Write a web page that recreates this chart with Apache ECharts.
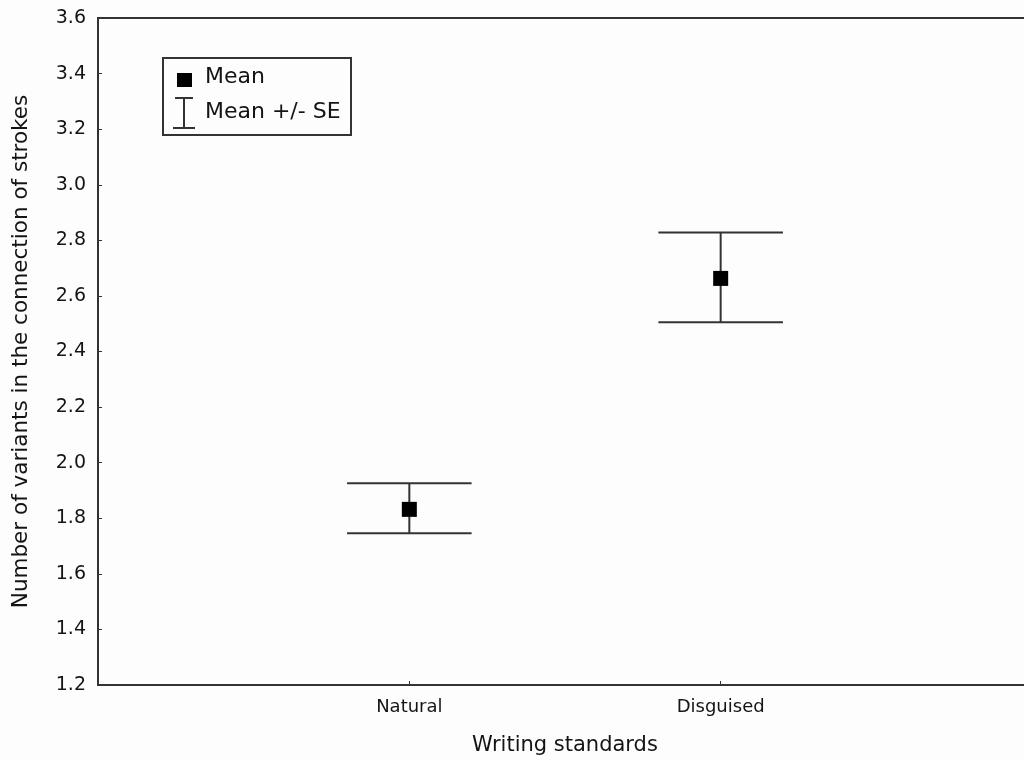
<!DOCTYPE html>
<html lang="en">

<head>
  <meta charset="UTF-8">
  <title>Writing standards</title>
  <style>
    html, body { margin: 0; padding: 0; background: #fdfdfd; }
  </style>
</head>

<body>
  <div id="main" style="width: 1024px;height:761px;"></div>

  <script src="https://cdn.jsdelivr.net/npm/echarts@6/dist/echarts.min.js"></script>
  <script>

  // data
  const categories = ['Natural', 'Disguised'];
  const xPos = [1, 2];
  const means = [1.832, 2.663];
  const seLow = [1.746, 2.505];
  const seHigh = [1.926, 2.828];
  const yTicks = [1.2, 1.4, 1.6, 1.8, 2.0, 2.2, 2.4, 2.6, 2.8, 3.0, 3.2, 3.4, 3.6];

  const font = 'DejaVu Sans, sans-serif';
  const ink = '#141414';

  let meanData = xPos.map((x, i) => [x, means[i]]);
  let errData = xPos.map((x, i) => [x, seLow[i], seHigh[i]]);

  let myChart = echarts.init(document.getElementById('main'));
  let option = {
    backgroundColor: '#fdfdfd',
    animation: false,
    grid: {
      left: 98, top: 18, right: -8, bottom: 76,
      outerBoundsMode: 'none',
      show: true, borderColor: '#333', borderWidth: 2
    },
    xAxis: {
      type: 'value',
      min: 0, max: 3, interval: 1,
      name: 'Writing standards',
      nameLocation: 'middle',
      nameGap: 50,
      nameTextStyle: { fontFamily: font, fontSize: 21, color: ink },
      splitLine: { show: false },
      axisLine: { lineStyle: { color: '#333', width: 2 } },
      axisTick: { inside: true, length: 4, customValues: xPos, lineStyle: { color: '#333' } },
      axisLabel: {
        customValues: xPos,
        margin: 13,
        fontFamily: font, fontSize: 18, color: ink,
        formatter: v => categories[xPos.indexOf(v)] || ''
      }
    },
    yAxis: {
      type: 'value',
      min: 1.2, max: 3.6, interval: 0.2,
      name: 'Number of variants in the connection of strokes',
      nameLocation: 'middle',
      nameGap: 66,
      nameTextStyle: { fontFamily: font, fontSize: 21.5, color: ink },
      splitLine: { show: false },
      axisLine: { show: true, lineStyle: { color: '#333', width: 2 } },
      axisTick: { show: true, inside: true, length: 4, lineStyle: { color: '#333' } },
      axisLabel: {
        margin: 12,
        fontFamily: font, fontSize: 19, color: ink,
        formatter: v => yTicks.find(t => Math.abs(t - v) < 1e-6).toFixed(1)
      }
    },
    series: [
      {
        name: 'Mean +/- SE',
        type: 'custom',
        data: errData,
        renderItem: function (params, api) {
          let x = api.value(0);
          let lo = api.coord([x, api.value(1)]);
          let hi = api.coord([x, api.value(2)]);
          let l = api.coord([x - 0.2, api.value(1)])[0];
          let r = api.coord([x + 0.2, api.value(1)])[0];
          let style = { stroke: '#333', lineWidth: 2 };
          return {
            type: 'group',
            children: [
              { type: 'line', shape: { x1: lo[0], y1: lo[1], x2: hi[0], y2: hi[1] }, style: style },
              { type: 'line', shape: { x1: l, y1: hi[1], x2: r, y2: hi[1] }, style: style },
              { type: 'line', shape: { x1: l, y1: lo[1], x2: r, y2: lo[1] }, style: style }
            ]
          };
        },
        z: 2
      },
      {
        name: 'Mean',
        type: 'scatter',
        data: meanData,
        symbol: 'rect',
        symbolSize: 15,
        itemStyle: { color: '#000', opacity: 1 },
        z: 3
      }
    ],
    // legend box drawn by hand (item sizes differ)
    graphic: [{
      type: 'group',
      left: 162, top: 57,
      children: [
        { type: 'rect', shape: { x: 0, y: 0, width: 188, height: 77 },
          style: { fill: '#fdfdfd', stroke: '#333', lineWidth: 2 } },
        { type: 'rect', shape: { x: 14, y: 15, width: 15, height: 14 }, style: { fill: '#000' } },
        { type: 'text', x: 42, y: 19, style: { text: 'Mean', font: '22px ' + font, fill: ink, textVerticalAlign: 'middle' } },
        { type: 'line', shape: { x1: 21, y1: 40, x2: 21, y2: 70 }, style: { stroke: '#333', lineWidth: 2 } },
        { type: 'line', shape: { x1: 12, y1: 40, x2: 30, y2: 40 }, style: { stroke: '#333', lineWidth: 2 } },
        { type: 'line', shape: { x1: 10, y1: 70, x2: 32, y2: 70 }, style: { stroke: '#333', lineWidth: 2 } },
        { type: 'text', x: 42, y: 54, style: { text: 'Mean +/- SE', font: '22px ' + font, fill: ink, textVerticalAlign: 'middle' } }
      ]
    }]
  };

  myChart.setOption(option);
  </script>
</body>

</html>
